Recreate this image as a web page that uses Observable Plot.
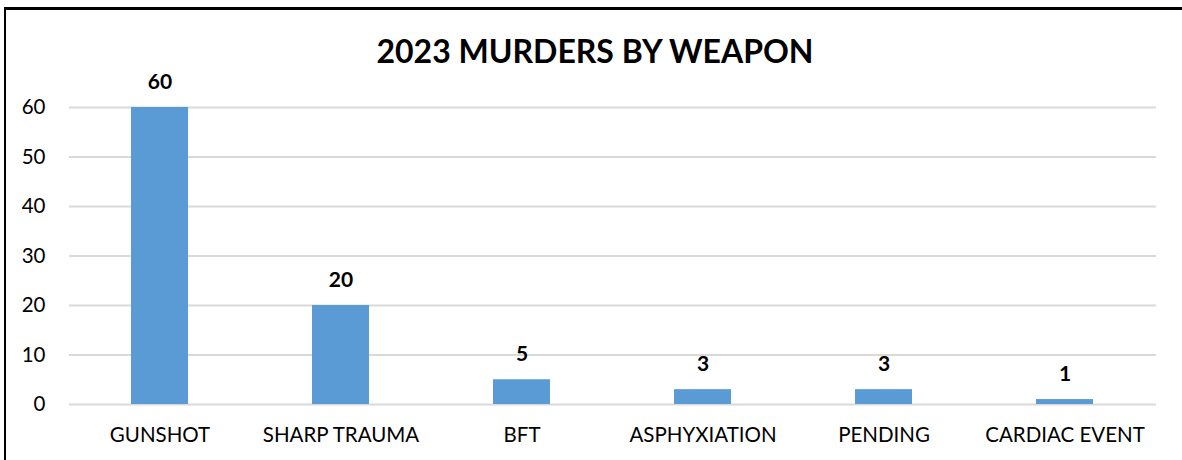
<!DOCTYPE html>
<html>
<head>
<meta charset="utf-8">
<script src="https://cdn.jsdelivr.net/npm/d3@7"></script>
<script src="https://cdn.jsdelivr.net/npm/@observablehq/plot@0.6"></script>
<style>
  body { margin: 0; background: #fff; }
  #wrap { position: relative; width: 1182px; height: 460px; overflow: hidden; background: #fff; font-family: Lato, "Open Sans", sans-serif; }
  #frame { position: absolute; left: 4px; top: 7px; width: 1200px; height: 500px; border-left: 2.5px solid #000; border-top: 3px solid #000; box-sizing: border-box; }
  #title { position: absolute; top: 31px; left: 0; width: 1190px; text-align: center; font-weight: 700; font-size: 32px; color: #000; }
  #chart { position: absolute; left: 0; top: 0; }
</style>
</head>
<body>
<div id="wrap">
  <div id="frame"></div>
  <div id="title">2023 MURDERS BY WEAPON</div>
  <div id="chart"></div>
</div>
<script>
const categories = ["GUNSHOT", "SHARP TRAUMA", "BFT", "ASPHYXIATION", "PENDING", "CARDIAC EVENT"];
const values = [60, 20, 5, 3, 3, 1];
const yTicks = [0, 10, 20, 30, 40, 50, 60];

const data = categories.map((c, i) => ({category: c, value: values[i]}));

const chart = Plot.plot({
  width: 1182,
  height: 460,
  marginLeft: 69,
  marginRight: 26,
  marginTop: 107,
  marginBottom: 56,
  style: {background: "transparent", fontFamily: "Lato, 'Open Sans', sans-serif", fontSize: "20px", color: "#000"},
  x: {domain: categories, paddingInner: 0.685, paddingOuter: 0.3425, label: null, tickSize: 0, tickPadding: 23},
  y: {domain: [0, 60], ticks: yTicks, label: null, tickSize: 0, tickPadding: 24},
  marks: [
    Plot.ruleY(yTicks, {stroke: "#d9d9d9", strokeWidth: 2}),
    Plot.barY(data, {x: "category", y: "value", fill: "#5b9bd5"}),
    Plot.text(data, {x: "category", y: "value", text: d => String(d.value), dy: -25, fontWeight: "bold", fontSize: 21, fill: "#000"}),
    Plot.axisX({tickSize: 0, tickPadding: 23, fontSize: 20.5}),
    Plot.axisY({ticks: yTicks, tickSize: 0, tickPadding: 24, fontSize: 20.5})
  ]
});
document.getElementById("chart").appendChild(chart);
</script>
</body>
</html>
